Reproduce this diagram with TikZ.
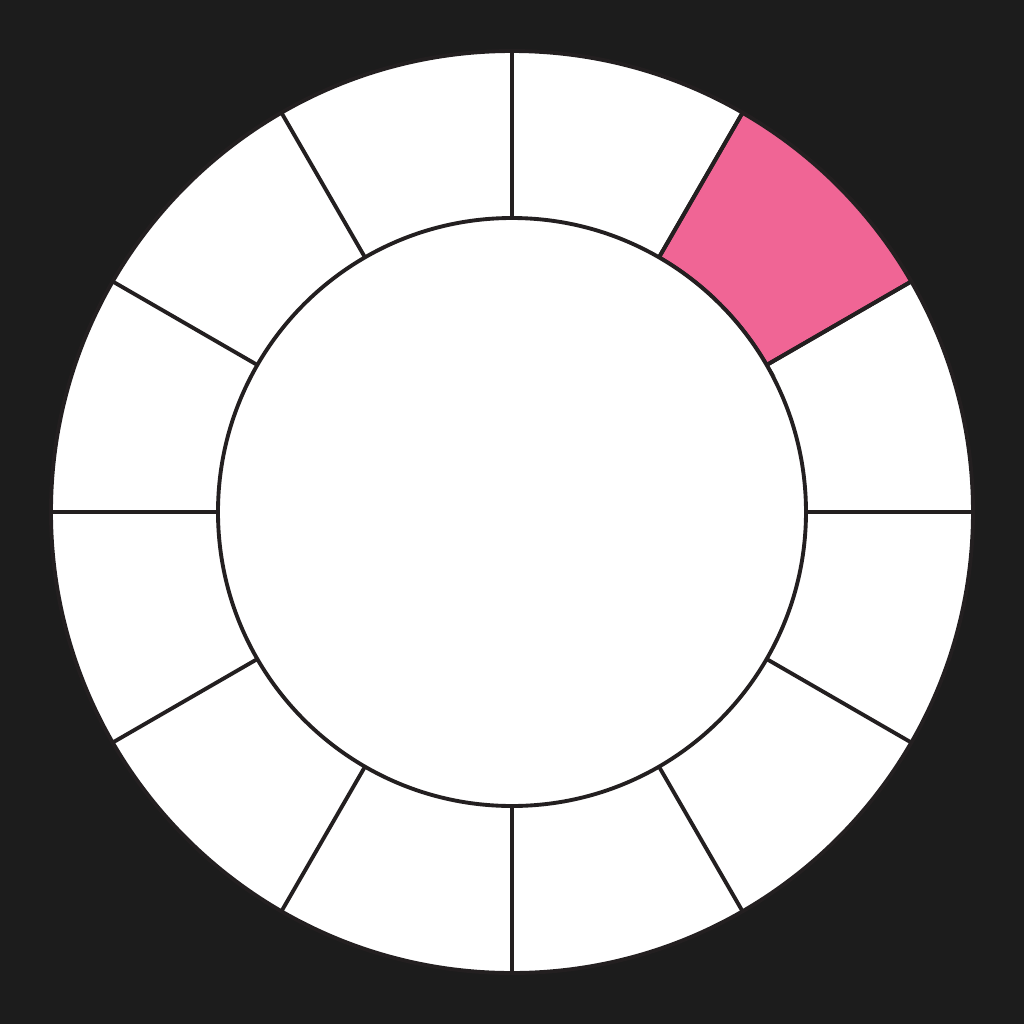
\documentclass[tikz,border=0pt]{standalone}
\usepackage{xcolor}
\usetikzlibrary{calc}
\definecolor{boarddark}{HTML}{1C1C1C}
\definecolor{rimline}{HTML}{231F20}
\definecolor{slicepink}{HTML}{F06595}

\begin{document}
\begin{tikzpicture}[
    ring/.style={fill=white, draw=rimline, line width=1.1pt},
    slice/.style={fill=slicepink, draw=rimline, line width=1.1pt},
    spoke/.style={draw=rimline, line width=1.1pt},
  ]

  % --- Background ---
  \fill[boarddark] (-5.12,-5.12) rectangle (5.12,5.12);
  \useasboundingbox (-5.12,-5.12) rectangle (5.12,5.12);

  \coordinate (centre) at (0,0);

  % --- Outer ring ---
  \draw[ring] (centre) circle (4.61);

  % --- Highlighted slice ---
  \draw[slice] (30:2.94) -- (30:4.61) arc (30:60:4.61) -- (60:2.94)
    arc (60:30:2.94) -- cycle;

  % --- Spokes ---
  \foreach \a in {0,30,...,330}
    \draw[spoke] (\a:2.94) -- (\a:4.61);

  % --- Inner disc ---
  \draw[ring] (centre) circle (2.94);
\end{tikzpicture}
\end{document}
